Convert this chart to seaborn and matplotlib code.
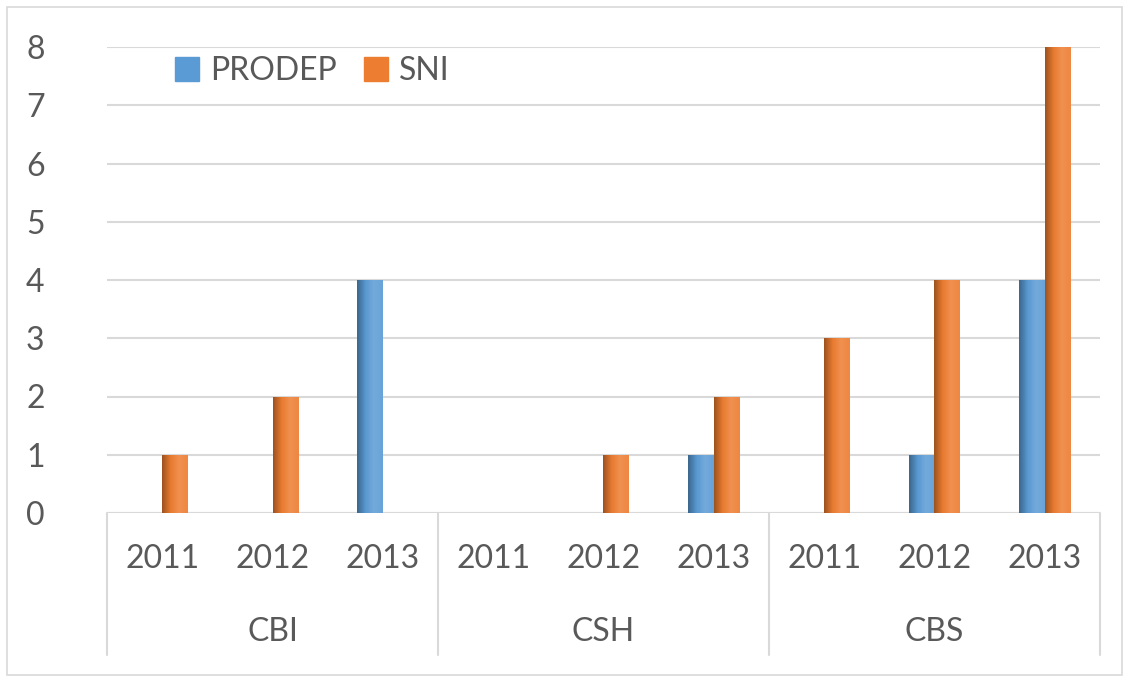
import numpy as np
import pandas as pd
import matplotlib
matplotlib.use('Agg')
import matplotlib.pyplot as plt
import matplotlib.colors as mcolors
from matplotlib.patches import Rectangle
import seaborn as sns

# data
groups = ['CBI', 'CSH', 'CBS']
years = ['2011', '2012', '2013']
prodep = [0, 0, 4, 0, 0, 1, 0, 1, 4]
sni = [1, 2, 0, 0, 1, 2, 3, 4, 8]
series = ['PRODEP', 'SNI']
colors = ['#5b9bd5', '#ed7d31']

keys = [g + ' ' + y for g in groups for y in years]
df = pd.DataFrame({
    'key': keys * 2,
    'serie': ['PRODEP'] * 9 + ['SNI'] * 9,
    'value': prodep + sni,
})

sns.set_style('white')
plt.rcParams['font.family'] = ['Lato', 'DejaVu Sans']
text_col = '#595959'
grid_col = '#d9d9d9'

fig = plt.figure(figsize=(11.3, 6.82), dpi=100)
ax = fig.add_axes([107 / 1130, 169 / 682, 993 / 1130, 466 / 682])

sns.barplot(data=df, x='key', y='value', hue='serie', order=keys,
            hue_order=series, palette=colors, width=0.47, ax=ax,
            saturation=1, edgecolor='none', linewidth=0, zorder=3)

ax.set_ylim(0, 8)
ax.set_xlim(-0.5, 8.5)
ax.set_yticks(range(9))
ax.yaxis.grid(True, color=grid_col, lw=1.5, zorder=0)
ax.set_axisbelow(True)
for s in ax.spines.values():
    s.set_visible(False)
ax.tick_params(axis='y', length=0, pad=45, labelsize=23, labelcolor=text_col)
ax.set_xticks(range(9))
ax.set_xticklabels(years * 3)
ax.tick_params(axis='x', length=0, pad=22, labelsize=23, labelcolor=text_col)
ax.set_xlabel('')
ax.set_ylabel('')
ax.axhline(0, color=grid_col, lw=1.5, zorder=1)

# gradient shading on the bars
def shade(c, f):
    r = np.array(mcolors.to_rgb(c))
    if f < 1:
        return r * f
    return r + (1 - r) * (f - 1)

for patch, col in zip(ax.patches, [colors[0]] * 9 + [colors[1]] * 9):
    h = patch.get_height()
    if h <= 0:
        continue
    x0 = patch.get_x()
    w = patch.get_width()
    stops = [shade(col, 0.66), shade(col, 0.98), shade(col, 1.15), shade(col, 1.08)]
    cmap = mcolors.LinearSegmentedColormap.from_list('g', stops)
    im = ax.imshow(np.linspace(0, 1, 64).reshape(1, -1), cmap=cmap,
                   extent=[x0, x0 + w, 0, h], aspect='auto', zorder=4,
                   interpolation='bilinear')
    im.set_clip_path(patch)
ax.set_xlim(-0.5, 8.5)
ax.set_ylim(0, 8)

# category axis separators and group labels
trans = ax.get_xaxis_transform()
for xs in [-0.5, 2.5, 5.5, 8.5]:
    ax.plot([xs, xs], [0, -0.305], color=grid_col, lw=1.5, transform=trans,
            clip_on=False)
for i, g in enumerate(groups):
    ax.text(i * 3 + 1, -0.255, g, transform=trans, ha='center', va='center',
            fontsize=23, color=text_col)

ax.legend(handles=[Rectangle((0, 0), 1, 1, color=c) for c in colors],
          labels=series, ncol=2, frameon=False, fontsize=23,
          labelcolor=text_col, handlelength=0.75, handleheight=0.75,
          handletextpad=0.35, columnspacing=0.85,
          loc='center left', bbox_to_anchor=(146 / 1130, 1 - 71 / 682),
          bbox_transform=fig.transFigure)

fig.patches.append(Rectangle((7 / 1130, 7 / 682), 1115 / 1130, 668 / 682,
                             transform=fig.transFigure, fill=False,
                             edgecolor=grid_col, lw=1.2))

fig.savefig('out.png', dpi=100)
